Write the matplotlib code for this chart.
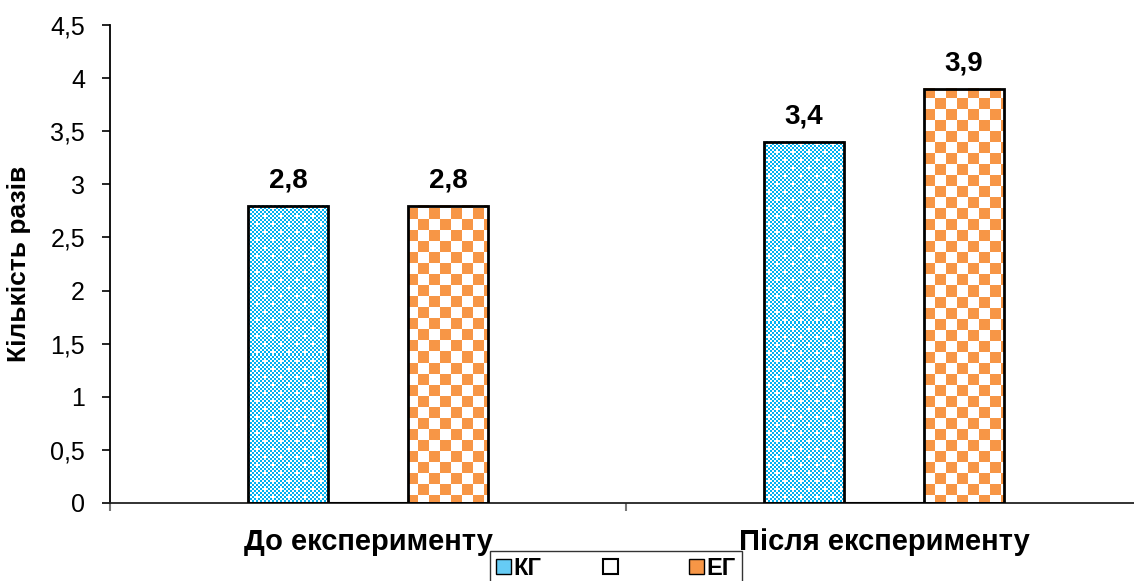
import numpy as np
import matplotlib
matplotlib.use("Agg")
import matplotlib.pyplot as plt
from matplotlib.patches import Patch

plt.rcParams['font.family'] = ['Liberation Sans', 'DejaVu Sans']

categories = ['До експерименту', 'Після експерименту']
series_names = ['КГ', ' ', 'ЕГ']
kg_values = [2.8, 3.4]
empty_values = [0.0, 0.0]
eg_values = [2.8, 3.9]
value_labels_kg = ['2,8', '3,4']
value_labels_eg = ['2,8', '3,9']
yticks = [0, 0.5, 1, 1.5, 2, 2.5, 3, 3.5, 4, 4.5]
ytick_labels = ['0', '0,5', '1', '1,5', '2', '2,5', '3', '3,5', '4', '4,5']

BLUE = np.array([0, 176, 240]) / 255.0
ORANGE = np.array([247, 150, 70]) / 255.0
WHITE = np.array([1.0, 1.0, 1.0])

DPI = 100
fig = plt.figure(figsize=(11.34, 5.81), dpi=DPI)
W, H = 1134, 581
ax = fig.add_axes([110 / W, 78 / H, (1142 - 110) / W, (503 - 25) / H])

x = np.arange(len(categories))
bw = 0.155

ax.set_xlim(-0.5, 1.5)
ax.set_ylim(0, 4.5)


def pattern(kind, x0, y0, w, h):
    """Return an RGB array (h x w) with a fill pattern aligned to figure pixels."""
    xs = np.arange(x0, x0 + w)[None, :]
    ys = np.arange(y0, y0 + h)[:, None]
    img = np.ones((h, w, 3))
    if kind == 'orange':
        cell = 11
        mask = ((xs // cell) + (ys // cell)) % 2 == 0
        img[mask] = ORANGE
    else:
        cell = 2
        mask = ((xs // cell) + (ys // cell)) % 2 == 0
        img[mask] = BLUE
        # sparse white dots on a diagonal lattice
        dot = (((xs % 16) < 2) & ((ys % 16) < 2)) | ((((xs + 8) % 16) < 2) & (((ys + 8) % 16) < 2))
        img[dot] = WHITE
    return img


fig.canvas.draw()


def patterned_bars(positions, values, kind):
    bars = ax.bar(positions, values, bw, facecolor='none', edgecolor='black',
                  linewidth=2.0, zorder=3)
    for b in bars:
        bx0, by0 = b.get_x(), b.get_y()
        bx1, by1 = bx0 + b.get_width(), by0 + b.get_height()
        (px0, py0), (px1, py1) = ax.transData.transform([(bx0, by0), (bx1, by1)])
        pw = max(int(round(px1 - px0)), 1)
        ph = max(int(round(py1 - py0)), 1)
        top_px = int(round(H - py1))
        img = pattern(kind, int(round(px0)), top_px, pw, ph)
        ax.imshow(img, extent=(bx0, bx1, by0, by1), aspect='auto',
                  interpolation='nearest', zorder=2)
    return bars


patterned_bars(x - bw, kg_values, 'blue')
ax.bar(x, empty_values, bw, facecolor='white', edgecolor='black', linewidth=1.5, zorder=3)
patterned_bars(x + bw, eg_values, 'orange')

ax.set_xlim(-0.5, 1.5)
ax.set_ylim(0, 4.5)

for xi, v, t in zip(x - bw, kg_values, value_labels_kg):
    ax.annotate(t, (xi, v), xytext=(0, 9), textcoords='offset points',
                ha='center', va='bottom', fontsize=20, fontweight='bold')
for xi, v, t in zip(x + bw, eg_values, value_labels_eg):
    ax.annotate(t, (xi, v), xytext=(0, 9), textcoords='offset points',
                ha='center', va='bottom', fontsize=20, fontweight='bold')

# axes styling
for s in ['top', 'right']:
    ax.spines[s].set_visible(False)
ax.spines['left'].set_linewidth(1.3)
ax.spines['bottom'].set_linewidth(1.3)
ax.spines['bottom'].set_color('#222222')

ax.set_yticks(yticks)
ax.set_yticklabels(ytick_labels, fontsize=18)
ax.tick_params(axis='y', length=6, width=1.2, pad=12)

ax.set_xticks([-0.5, 0.5, 1.5])
ax.set_xticklabels([])
ax.tick_params(axis='x', which='major', length=6, width=1.5, color='#777777')
ax.set_xticks(x, minor=True)
ax.set_xticklabels(categories, minor=True, fontsize=21, fontweight='bold')
ax.tick_params(axis='x', which='minor', length=0, pad=18)

ax.set_ylabel('Кількість разів', fontsize=19, fontweight='bold', labelpad=14)

handles = [
    Patch(facecolor='#66ccf5', edgecolor='black', linewidth=1.0),
    Patch(facecolor='white', edgecolor='black', linewidth=1.5),
    Patch(facecolor=ORANGE, edgecolor='black', linewidth=1.0),
]
leg = fig.legend(handles, series_names, loc='upper left',
                 bbox_to_anchor=(490 / W, (H - 551) / H), ncol=3,
                 frameon=True, fancybox=False, edgecolor='black',
                 prop={'size': 17, 'weight': 'bold'},
                 handlelength=0.65, handleheight=0.65, handletextpad=0.1,
                 columnspacing=2.6, borderpad=0.25, borderaxespad=0)
leg.get_frame().set_linewidth(1.0)

fig.savefig('out.png', dpi=DPI)
